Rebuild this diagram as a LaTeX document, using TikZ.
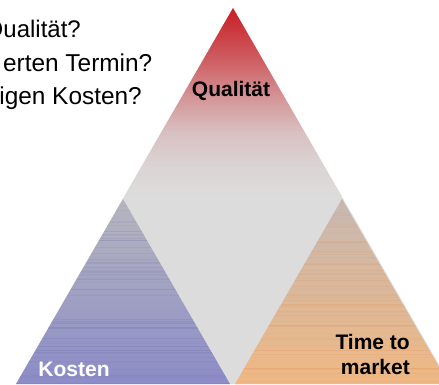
\documentclass[tikz,border=0pt]{standalone}
\usepackage{fontspec}
\setmainfont{Liberation Sans}
\definecolor{midgray}{RGB}{220,220,220}
\definecolor{topred}{RGB}{200,30,36}
\definecolor{q1c}{RGB}{206,90,94}
\definecolor{q2c}{RGB}{212,150,152}
\definecolor{q3c}{RGB}{217,192,193}
\definecolor{q4c}{RGB}{219,212,212}
\definecolor{kTop}{RGB}{182,182,190}
\definecolor{kBot}{RGB}{140,140,200}
\definecolor{kStripe}{RGB}{110,110,170}
\definecolor{tTop}{RGB}{198,184,178}
\definecolor{tBot}{RGB}{240,184,132}
\definecolor{tStripe}{RGB}{230,150,90}
\pgfdeclareverticalshading{qualshade}{100bp}{%
  color(0bp)=(midgray); color(25bp)=(midgray); color(33bp)=(q4c);
  color(42bp)=(q3c); color(51bp)=(q2c); color(62bp)=(q1c);
  color(75bp)=(topred); color(100bp)=(topred)}
\tikzset{
  question/.style={inner sep=0pt, font=\fontsize{24.4}{28}\selectfont, text=black},
  label/.style={inner sep=0pt, font=\fontsize{21}{25}\selectfont\bfseries},
}
\begin{document}
\begin{tikzpicture}[x=1pt,y=1pt]
\useasboundingbox (0,0) rectangle (439,384);
% big triangle (middle gray)
\fill[midgray] (233,376) -- (16,0) -- (450,0) -- cycle;
% top triangle with gradient
\shade[shading=qualshade] (233,376) -- (124.5,188) -- (341.5,188) -- cycle;
% lower left triangle
\begin{scope}
  \clip (16,0) -- (230,0) -- (123,185) -- cycle;
  \shade[top color=kTop, bottom color=kBot] (16,0) rectangle (230,185);
  \pgfmathsetseed{11}
  \foreach \i in {1,...,60}{
    \pgfmathsetmacro{\yy}{rnd*185}
    \pgfmathsetmacro{\op}{0.06+0.14*rnd}
    \draw[line width=0.5pt, draw=kStripe, opacity=\op] (16,\yy) -- (230,\yy);
  }
\end{scope}
% lower right triangle
\begin{scope}
  \clip (235,0) -- (449,0) -- (342,185) -- cycle;
  \shade[top color=tTop, bottom color=tBot] (235,0) rectangle (449,185);
  \pgfmathsetseed{5}
  \foreach \i in {1,...,60}{
    \pgfmathsetmacro{\yy}{rnd*185}
    \pgfmathsetmacro{\op}{0.06+0.14*rnd}
    \draw[line width=0.5pt, draw=tStripe, opacity=\op] (235,\yy) -- (449,\yy);
  }
\end{scope}
% questions (cut at the left edge)
\node[question, anchor=base east, font=\fontsize{24}{28}\selectfont] (q1) at (81,347) {Qualität?};
\node[question, anchor=base east] (q2) at (152.5,313) {erten Termin?};
\node[question, anchor=base east] (q3) at (142,280) {igen Kosten?};
% labels
\node[label, anchor=base, text=black] (lq) at (231,288) {Qualität};
\node[label, anchor=base, text=white] (lk) at (74,8) {Kosten};
\node[label, anchor=south east, align=right, text=black] (lt) at (410,9) {Time to\\market};
\end{tikzpicture}
\end{document}
